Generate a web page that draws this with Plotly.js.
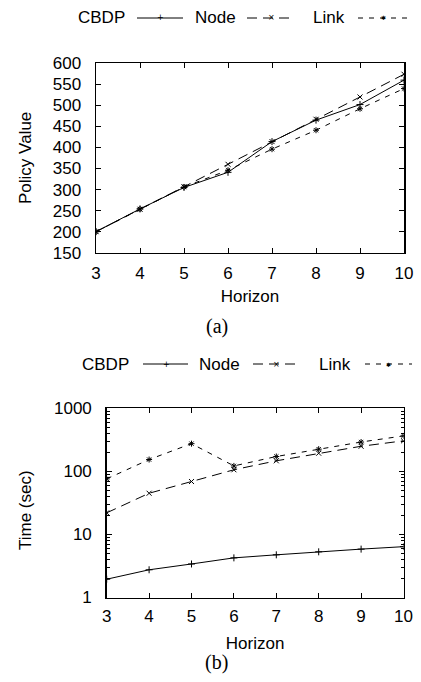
<!DOCTYPE html>
<html>
<head>
<meta charset="utf-8">
<script src="https://cdn.plot.ly/plotly-3.0.1.min.js"></script>
<style>html,body{margin:0;padding:0;background:#fff;}#chart{width:421px;height:682px;}</style>
</head>
<body>
<div id="chart"></div>
<script>
// ---- data ----
var horizon = [3, 4, 5, 6, 7, 8, 9, 10];
// (a) Policy Value
var valueCBDP = [200, 254, 305, 341, 414, 465, 502, 560];
var valueNode = [200, 253, 307, 360, 414, 467, 520, 574];
var valueLink = [200, 254, 306, 346, 396, 441, 492, 540];
// (b) Time (sec)
var timeCBDP = [1.95, 2.75, 3.4, 4.25, 4.75, 5.3, 5.85, 6.4];
var timeNode = [22, 45, 69, 106, 147, 194, 250, 305];
var timeLink = [76, 154, 275, 122, 172, 225, 292, 365];
var seriesNames = ["CBDP", "Node", "Link"];
var valueTicks = [150, 200, 250, 300, 350, 400, 450, 500, 550, 600];
var timeTicks = [1, 10, 100, 1000];
var timeMinorTicks = [2, 3, 4, 5, 6, 7, 8, 9, 20, 30, 40, 50, 60, 70, 80, 90, 200, 300, 400, 500, 600, 700, 800, 900];

var FONT = "Liberation Sans, Arial, Helvetica, sans-serif";
var SERIF = "Liberation Serif, DejaVu Serif, serif";
var FS = 17;
var dashes = ["solid", "10px,6px", "5px,6px"];
var symbols = ["cross-thin-open", "x-thin-open", "asterisk-open"];

function tr(x, y, i, xa, ya) {
  return {
    x: x, y: y, name: seriesNames[i], xaxis: xa, yaxis: ya,
    type: "scatter", mode: "lines+markers", showlegend: false,
    line: {color: "#000", width: 1, dash: dashes[i]},
    marker: {symbol: symbols[i], size: 5, color: "#000", line: {color: "#000", width: 1}}
  };
}
var data = [
  tr(horizon, valueCBDP, 0, "x", "y"),
  tr(horizon, valueNode, 1, "x", "y"),
  tr(horizon, valueLink, 2, "x", "y"),
  tr(horizon, timeCBDP, 0, "x2", "y2"),
  tr(horizon, timeNode, 1, "x2", "y2"),
  tr(horizon, timeLink, 2, "x2", "y2")
];

var W = 421, H = 682;
function px(v) { return v / W; }
function py(v) { return 1 - v / H; }

var axBase = {
  showline: true, linecolor: "#000", linewidth: 1.5, mirror: "ticks",
  ticks: "inside", ticklen: 5, tickwidth: 1, tickcolor: "#000",
  showgrid: false, zeroline: false, fixedrange: true,
  tickfont: {family: FONT, size: FS, color: "#000"}
};
function ax(extra) { return Object.assign({}, axBase, extra); }

var layout = {
  width: W, height: H, paper_bgcolor: "#fff", plot_bgcolor: "#fff",
  margin: {l: 0, r: 0, t: 0, b: 0},
  font: {family: FONT, size: FS, color: "#000"},
  showlegend: false,
  xaxis: ax({domain: [px(96), px(404)], range: [3, 10], tickvals: horizon, anchor: "y", ticklabelstandoff: 4,
    title: {text: "Horizon", font: {family: FONT, size: FS}, standoff: 8}}),
  yaxis: ax({domain: [py(252.7), py(63.3)], range: [150, 600], tickvals: valueTicks, anchor: "x", ticklabelstandoff: 10}),
  xaxis2: ax({domain: [px(106.7), px(403.5)], range: [3, 10], tickvals: horizon, anchor: "y2", ticklabelstandoff: 3,
    title: {text: "Horizon", font: {family: FONT, size: FS}, standoff: 11}}),
  yaxis2: ax({domain: [py(597.5), py(408.3)], type: "log", range: [0, 3], tickvals: timeTicks, anchor: "x2", ticklabelstandoff: 10,
    minor: {tickvals: timeMinorTicks, ticks: "inside", ticklen: 3, tickwidth: 1, tickcolor: "#000", showgrid: false}}),
  annotations: [],
  shapes: []
};

// y axis titles and captions
layout.annotations.push({xref: "paper", yref: "paper", x: px(25), y: py(158), text: "Policy Value", textangle: -90,
  showarrow: false, xanchor: "center", yanchor: "middle", font: {family: FONT, size: FS}});
layout.annotations.push({xref: "paper", yref: "paper", x: px(25), y: py(510), text: "Time (sec)", textangle: -90,
  showarrow: false, xanchor: "center", yanchor: "middle", font: {family: FONT, size: FS}});
layout.annotations.push({xref: "paper", yref: "paper", x: px(216.5), y: py(326), text: "(a)",
  showarrow: false, xanchor: "center", yanchor: "middle", font: {family: SERIF, size: 20}});
layout.annotations.push({xref: "paper", yref: "paper", x: px(216.5), y: py(662), text: "(b)",
  showarrow: false, xanchor: "center", yanchor: "middle", font: {family: SERIF, size: 20}});

// gnuplot-style keys: label then sample line
var glyphs = ["+", "×", "✱"];
var glyphSize = [8, 8, 6];
function key(yc, entries) {
  entries.forEach(function (e, i) {
    layout.annotations.push({xref: "paper", yref: "paper", x: px(e.textRight), y: py(yc), text: seriesNames[i],
      showarrow: false, xanchor: "right", yanchor: "middle", font: {family: FONT, size: FS}});
    layout.shapes.push({type: "line", xref: "paper", yref: "paper", x0: px(e.l0), x1: px(e.l1), y0: py(yc), y1: py(yc),
      line: {color: "#000", width: 1, dash: dashes[i]}});
    layout.annotations.push({xref: "paper", yref: "paper", x: px(e.mk), y: py(yc), text: glyphs[i],
      showarrow: false, xanchor: "center", yanchor: "middle",
      font: {family: "DejaVu Sans, sans-serif", size: glyphSize[i], color: "#000"}});
  });
}
key(18, [{textRight: 127, l0: 137, l1: 183, mk: 160}, {textRight: 238, l0: 247, l1: 295, mk: 271}, {textRight: 347, l0: 358, l1: 407, mk: 383}]);
key(364, [{textRight: 131, l0: 143, l1: 188, mk: 166}, {textRight: 242, l0: 253, l1: 300, mk: 276}, {textRight: 353, l0: 365, l1: 412, mk: 388}]);

Plotly.newPlot("chart", data, layout, {staticPlot: true, displayModeBar: false});
</script>
</body>
</html>
